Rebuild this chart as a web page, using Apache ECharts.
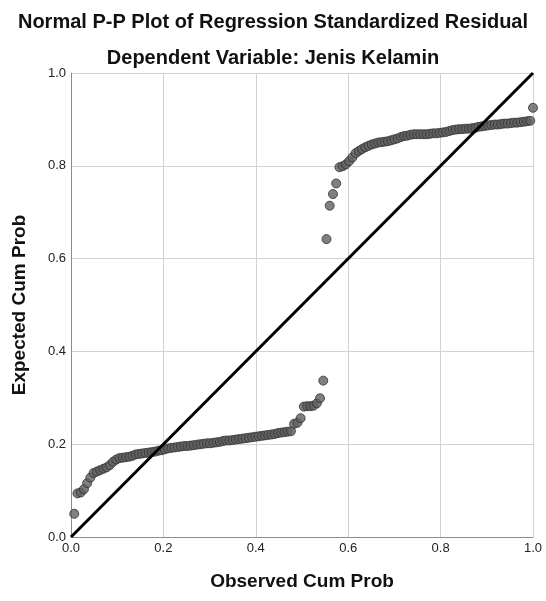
<!DOCTYPE html>
<html>
<head>
<meta charset="utf-8">
<script src="https://cdn.jsdelivr.net/npm/echarts@6/dist/echarts.min.js"></script>
<style>
  html, body { margin: 0; padding: 0; background: #fff; }
  #chart { width: 546px; height: 601px; }
</style>
</head>
<body>
<div id="chart"></div>
<script>
// observed cum prob (x) and expected cum prob (y)
var observed = [
  0.007, 0.014, 0.021, 0.028, 0.035, 0.042, 0.049, 0.056, 0.063, 0.070,
  0.077, 0.084, 0.091, 0.098, 0.105, 0.112, 0.119, 0.126, 0.133, 0.140,
  0.147, 0.154, 0.161, 0.168, 0.175, 0.182, 0.189, 0.196, 0.203, 0.210,
  0.217, 0.224, 0.231, 0.238, 0.245, 0.252, 0.259, 0.266, 0.273, 0.280,
  0.287, 0.294, 0.301, 0.308, 0.315, 0.322, 0.329, 0.336, 0.343, 0.350,
  0.357, 0.364, 0.371, 0.378, 0.385, 0.392, 0.399, 0.406, 0.413, 0.420,
  0.427, 0.434, 0.441, 0.448, 0.455, 0.462, 0.469, 0.476, 0.483, 0.490,
  0.497, 0.504, 0.511, 0.518, 0.525, 0.532, 0.539, 0.546,
  0.553, 0.560, 0.567, 0.574, 0.581, 0.588, 0.595, 0.602, 0.609, 0.616,
  0.623, 0.630, 0.637, 0.644, 0.651, 0.658, 0.665, 0.672, 0.679, 0.686,
  0.693, 0.700, 0.707, 0.714, 0.721, 0.728, 0.735, 0.742, 0.749, 0.756,
  0.763, 0.770, 0.777, 0.784, 0.791, 0.798, 0.805, 0.812, 0.819, 0.826,
  0.833, 0.840, 0.847, 0.854, 0.861, 0.868, 0.875, 0.882, 0.889, 0.896,
  0.903, 0.910, 0.917, 0.924, 0.931, 0.938, 0.945, 0.952, 0.959, 0.966,
  0.973, 0.980, 0.987, 0.994, 1.000
];
var expected = [
  0.050, 0.094, 0.096, 0.103, 0.116, 0.128, 0.138, 0.141, 0.144, 0.147,
  0.150, 0.155, 0.162, 0.167, 0.170, 0.171, 0.172, 0.173, 0.175, 0.178,
  0.179, 0.180, 0.181, 0.182, 0.183, 0.184, 0.186, 0.187, 0.189, 0.191,
  0.192, 0.193, 0.194, 0.195, 0.196, 0.196, 0.197, 0.198, 0.199, 0.200,
  0.201, 0.202, 0.202, 0.203, 0.204, 0.205, 0.207, 0.208, 0.208, 0.209,
  0.210, 0.211, 0.212, 0.213, 0.214, 0.215, 0.216, 0.217, 0.218, 0.219,
  0.220, 0.221, 0.222, 0.224, 0.225, 0.226, 0.227, 0.228, 0.244, 0.246,
  0.256, 0.281, 0.282, 0.282, 0.283, 0.288, 0.299, 0.337,
  0.642, 0.714, 0.739, 0.762, 0.797, 0.799, 0.803, 0.810, 0.818, 0.827,
  0.832, 0.836, 0.840, 0.843, 0.846, 0.848, 0.850, 0.851, 0.852, 0.853,
  0.855, 0.857, 0.859, 0.862, 0.864, 0.865, 0.867, 0.868, 0.868, 0.868,
  0.868, 0.868, 0.869, 0.870, 0.870, 0.871, 0.872, 0.873, 0.875, 0.877,
  0.878, 0.879, 0.879, 0.880, 0.880, 0.881, 0.882, 0.884, 0.885, 0.886,
  0.887, 0.888, 0.889, 0.889, 0.890, 0.891, 0.891, 0.892, 0.893, 0.893,
  0.894, 0.895, 0.896, 0.897, 0.925
];
var refLine = [[0, 0], [1, 1]];

var points = observed.map(function (x, i) { return [x, expected[i]]; });

var chart = echarts.init(document.getElementById('chart'));

var axisCommon = {
  type: 'value',
  min: 0,
  max: 1,
  interval: 0.2,
  axisLine: { show: true, lineStyle: { color: '#8c8c8c', width: 1 } },
  axisTick: { show: false },
  splitLine: { show: true, lineStyle: { color: '#d2d2d2', width: 1 } },
  axisLabel: {
    color: '#222',
    fontFamily: 'Liberation Sans',
    fontSize: 13,
    margin: 5,
    formatter: function (v) { return v.toFixed(1); }
  },
  nameLocation: 'middle',
  nameTextStyle: {
    color: '#111',
    fontFamily: 'Liberation Sans',
    fontWeight: 'bold',
    fontSize: 19
  }
};

var option = {
  backgroundColor: '#fff',
  animation: false,
  title: [
    {
      text: 'Normal P-P Plot of Regression Standardized Residual',
      left: 'center',
      top: 7,
      textStyle: { fontFamily: 'Liberation Sans', fontWeight: 'bold', fontSize: 20, color: '#111' }
    },
    {
      text: 'Dependent Variable: Jenis Kelamin',
      left: 'center',
      top: 43,
      textStyle: { fontFamily: 'Liberation Sans', fontWeight: 'bold', fontSize: 20, color: '#111' }
    }
  ],
  grid: { left: 71, right: 13, top: 73, bottom: 64 },
  xAxis: Object.assign({}, axisCommon, {
    name: 'Observed Cum Prob',
    nameGap: 35
  }),
  yAxis: Object.assign({}, axisCommon, {
    name: 'Expected Cum Prob',
    nameGap: 42
  }),
  series: [
    {
      type: 'scatter',
      data: points,
      symbol: 'circle',
      symbolSize: 9,
      itemStyle: { color: '#606060', borderColor: '#2e2e2e', borderWidth: 1 },
      z: 2
    },
    {
      type: 'line',
      data: refLine,
      symbol: 'none',
      lineStyle: { color: '#000', width: 3 },
      z: 3
    }
  ]
};

chart.setOption(option);
</script>
</body>
</html>
